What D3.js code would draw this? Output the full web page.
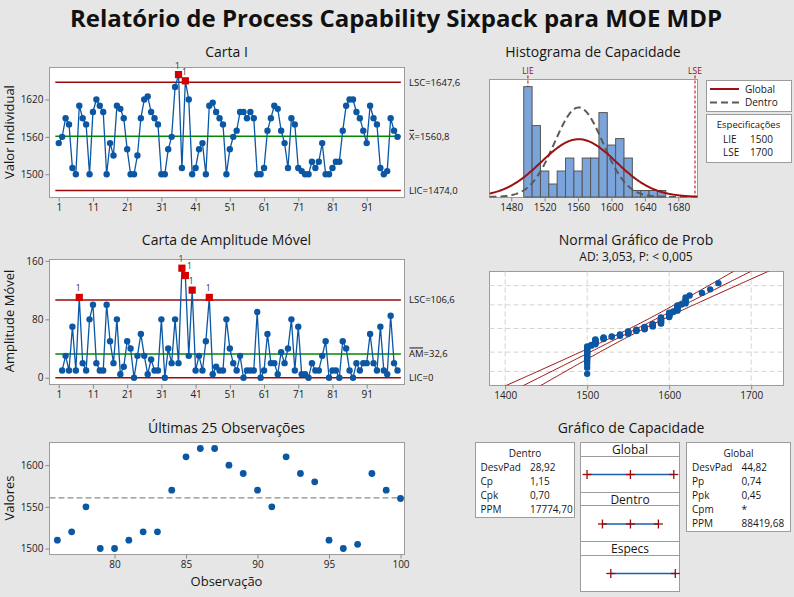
<!DOCTYPE html>
<html><head><meta charset="utf-8">
<script src="https://cdn.jsdelivr.net/npm/d3@7"></script>
<style>
body{margin:0;background:#e6e6e6;}
svg{display:block;}
text{font-family:"Open Sans","Noto Sans",sans-serif;fill:#161616;}
</style></head><body>
<svg id="c" width="794" height="597"></svg>
<script>
// ---------- data ----------
const observations = d3.range(1, 101);
const values = [1550,1560,1590,1580,1510,1500,1610,1590,1580,1500,
  1600,1620,1610,1600,1500,1550,1530,1610,1605,1590,
  1540,1500,1500,1530,1590,1620,1625,1600,1590,1580,
  1500,1500,1540,1560,1640,1660,1510,1650,1620,1500,
  1510,1540,1550,1500,1610,1615,1600,1590,1580,1500,
  1540,1560,1570,1600,1600,1590,1600,1590,1500,1500,
  1510,1570,1590,1610,1605,1570,1550,1510,1590,1580,
  1510,1505,1500,1500,1520,1510,1520,1550,1500,1500,
  1510,1520,1520,1570,1610,1620,1620,1600,1590,1570,
  1550,1610,1590,1580,1510,1500,1505,1590,1570,1560];
const mrObs = d3.range(2, 101);
const mrValues = [10,30,10,70,10,110,20,10,80,
  100,20,10,10,100,50,20,80,5,15,
  50,40,0,30,60,30,5,25,10,10,
  80,0,40,20,80,20,150,140,30,120,
  10,30,10,50,110,5,15,10,10,80,
  40,20,10,30,0,10,10,10,90,0,
  10,60,20,20,5,35,20,40,80,10,
  70,5,5,0,20,10,10,30,50,0,
  10,10,0,50,40,10,0,20,10,20,
  20,60,20,10,70,10,5,85,20,10];
const histCenters = [1500,1510,1520,1530,1540,1550,1560,1570,1580,1590,1600,1610,1620,1630,1640,1650,1660];
const histCounts  = [17,11,4,2,4,6,4,6,6,13,8,9,6,1,1,1,1];
const iLimits = {lsc:1647.6, center:1560.8, lic:1474.0};
const iLabels = ["LSC=1647,6", "=1560,8", "LIC=1474,0"];
const mrLimits = {lsc:106.6, center:32.6, lic:0};
const mrLabels = ["LSC=106,6", "=32,6", "LIC=0"];
const specs = {lie:1500, lse:1700};
const mean = 1560.8, sdWithin = 28.92, sdOverall = 44.82;
const xTicksI = [1,11,21,31,41,51,61,71,81,91];
const yTicksI = [1500,1560,1620];
const yTicksMR = [0,80,160];
const histTicks = [1480,1520,1560,1600,1640,1680];
const probTicks = [1400,1500,1600,1700];
const probGrid = [0.01,0.1,0.5,0.9,0.99];
const last25Ticks = [80,85,90,95,100];
const last25YTicks = [1500,1550,1600];
const withinTable = [["DesvPad","28,92"],["Cp","1,15"],["Cpk","0,70"],["PPM","17774,70"]];
const overallTable = [["DesvPad","44,82"],["Pp","0,74"],["Ppk","0,45"],["Cpm","*"],["PPM","88419,68"]];

// ---------- helpers ----------
const FONT = '"Open Sans","Noto Sans",sans-serif';
const BLUE = "#0b57a4", DRED = "#9a0a0a", GREEN = "#008a00", RED = "#d40000";
const svg = d3.select("#c");
svg.append("rect").attr("width",794).attr("height",597).attr("fill","#e6e6e6");

function frame(x0,y0,x1,y1,fill){
  return svg.append("rect").attr("x",x0).attr("y",y0).attr("width",x1-x0).attr("height",y1-y0)
    .attr("fill",fill||"#fff").attr("stroke","#9c9c9c").attr("stroke-width",1);
}
function txt(x,y,s,size,anchor,weight,color){
  return svg.append("text").attr("x",x).attr("y",y).attr("dy","0.35em").attr("font-size",size)
    .attr("text-anchor",anchor||"start").attr("font-weight",weight||"normal")
    .style("fill",color||"#161616").text(s);
}
function styleAxis(g){
  g.select(".domain").remove();
  g.attr("font-family",FONT).attr("font-size",10);
  g.selectAll("line").attr("stroke","#8a8a8a");
  g.selectAll("text").style("fill","#222");
}
function bottomAxis(scale,y,ticks){
  const g = svg.append("g").attr("transform",`translate(0,${y})`)
    .call(d3.axisBottom(scale).tickValues(ticks).tickSize(4).tickPadding(2).tickFormat(d3.format("d")));
  styleAxis(g); return g;
}
function leftAxis(scale,x,ticks){
  const g = svg.append("g").attr("transform",`translate(${x},0)`)
    .call(d3.axisLeft(scale).tickValues(ticks).tickSize(4).tickPadding(2).tickFormat(d3.format("d")));
  styleAxis(g); return g;
}
function vTitle(x,y,s){
  svg.append("text").attr("transform",`translate(${x},${y}) rotate(-90)`).attr("dy","0.35em")
    .attr("text-anchor","middle").attr("font-size",13).text(s);
}
function overLabel(x,y,bar,rest){
  const t = txt(x,y,bar,9.5);
  const w = t.node().getComputedTextLength();
  txt(x+w,y,rest,9.5);
  svg.append("line").attr("x1",x+0.5).attr("x2",x+w-0.5).attr("y1",y-6).attr("y2",y-6)
    .attr("stroke","#161616").attr("stroke-width",1);
}
function clip(id,x0,y0,x1,y1){
  svg.append("clipPath").attr("id",id).append("rect").attr("x",x0).attr("y",y0).attr("width",x1-x0).attr("height",y1-y0);
}
function probit(p){
  const a=[-3.969683028665376e+01,2.209460984245205e+02,-2.759285104469687e+02,1.383577518672690e+02,-3.066479806614716e+01,2.506628277459239e+00];
  const b=[-5.447609879822406e+01,1.615858368580409e+02,-1.556989798598866e+02,6.680131188771972e+01,-1.328068155288572e+01];
  const c=[-7.784894002430293e-03,-3.223964580411365e-01,-2.400758277161838e+00,-2.549732539343734e+00,4.374664141464968e+00,2.938163982698783e+00];
  const d=[7.784695709041462e-03,3.224671290700398e-01,2.445134137142996e+00,3.754408661907416e+00];
  const pl=0.02425; let q,r;
  if(p<pl){q=Math.sqrt(-2*Math.log(p));return (((((c[0]*q+c[1])*q+c[2])*q+c[3])*q+c[4])*q+c[5])/((((d[0]*q+d[1])*q+d[2])*q+d[3])*q+1);}
  if(p<=1-pl){q=p-0.5;r=q*q;return (((((a[0]*r+a[1])*r+a[2])*r+a[3])*r+a[4])*r+a[5])*q/(((((b[0]*r+b[1])*r+b[2])*r+b[3])*r+b[4])*r+1);}
  q=Math.sqrt(-2*Math.log(1-p));return -(((((c[0]*q+c[1])*q+c[2])*q+c[3])*q+c[4])*q+c[5])/((((d[0]*q+d[1])*q+d[2])*q+d[3])*q+1);
}
const npdf = (x,m,s)=>Math.exp(-0.5*((x-m)/s)**2)/(s*Math.sqrt(2*Math.PI));

// ---------- main title ----------
txt(396,19,"Relatório de Process Capability Sixpack para MOE MDP",24,"middle","bold","#111");

// ---------- Carta I ----------
const IX0=49.5, IX1=404.5;
const xI = d3.scaleLinear().domain([-1.7,102.05]).range([IX0,IX1]);
const yI = d3.scaleLinear().domain([1462.6,1671.4]).range([197.5,67.5]);
txt(226.5,52,"Carta I",14,"middle");
frame(IX0,67.5,IX1,197.5);
[[iLimits.lsc,DRED],[iLimits.center,GREEN],[iLimits.lic,DRED]].forEach(([v,c])=>{
  svg.append("line").attr("x1",xI(0)).attr("x2",xI(101)).attr("y1",yI(v)).attr("y2",yI(v)).attr("stroke",c).attr("stroke-width",1.5);
});
svg.append("path").datum(values).attr("fill","none").attr("stroke",BLUE).attr("stroke-width",1.3)
  .attr("d",d3.line().x((d,i)=>xI(observations[i])).y(d=>yI(d)));
let prevFlag = false;
values.forEach((v,i)=>{
  const flag = v>iLimits.lsc||v<iLimits.lic;
  if(flag){
    svg.append("rect").attr("x",xI(observations[i])-3.6).attr("y",yI(v)-3.6).attr("width",7.2).attr("height",7.2).attr("fill",RED);
  } else {
    svg.append("circle").attr("cx",xI(observations[i])).attr("cy",yI(v)).attr("r",3.2).attr("fill",BLUE);
  }
});
values.forEach((v,i)=>{
  if(v>iLimits.lsc||v<iLimits.lic) txt(xI(observations[i])-1,yI(v)-9,"1",8.5,"middle","normal","#333");
});
bottomAxis(xI,197.5,xTicksI);
leftAxis(yI,IX0,yTicksI);
vTitle(9,132,"Valor Individual");
txt(409,yI(iLimits.lsc),iLabels[0],9.5);
overLabel(409,yI(iLimits.center),"X",iLabels[1]);
txt(409,yI(iLimits.lic),iLabels[2],9.5);

// ---------- Carta MR ----------
const yM = d3.scaleLinear().domain([-9.2,161.9]).range([384.5,259.5]);
txt(226.5,240,"Carta de Amplitude Móvel",14,"middle");
frame(IX0,259.5,IX1,384.5);
[[mrLimits.lsc,DRED],[mrLimits.center,GREEN],[mrLimits.lic,DRED]].forEach(([v,c])=>{
  svg.append("line").attr("x1",xI(0)).attr("x2",xI(101)).attr("y1",yM(v)).attr("y2",yM(v)).attr("stroke",c).attr("stroke-width",1.5);
});
svg.append("path").datum(mrValues).attr("fill","none").attr("stroke",BLUE).attr("stroke-width",1.3)
  .attr("d",d3.line().x((d,i)=>xI(mrObs[i])).y(d=>yM(d)));
mrValues.forEach((v,i)=>{
  if(v>mrLimits.lsc){
    svg.append("rect").attr("x",xI(mrObs[i])-3.6).attr("y",yM(v)-3.6).attr("width",7.2).attr("height",7.2).attr("fill",RED);
  } else {
    svg.append("circle").attr("cx",xI(mrObs[i])).attr("cy",yM(v)).attr("r",3.2).attr("fill",BLUE);
  }
});
mrValues.forEach((v,i)=>{
  if(v>mrLimits.lsc){
    const shift = (i>0 && mrValues[i-1]>mrLimits.lsc) ? 4 : -1;
    txt(xI(mrObs[i])+shift,yM(v)-9,"1",8.5,"middle","normal","#333");
  }
});
bottomAxis(xI,384.5,xTicksI);
leftAxis(yM,IX0,yTicksMR);
vTitle(9,321,"Amplitude Móvel");
txt(409,yM(mrLimits.lsc),mrLabels[0],9.5);
overLabel(409,yM(mrLimits.center),"AM",mrLabels[1]);
txt(409,yM(mrLimits.lic),mrLabels[2],9.5);

// ---------- Últimas 25 ----------
const xL = d3.scaleLinear().domain([75.45,100.28]).range([IX0,IX1]);
const yL = d3.scaleLinear().domain([1492.8,1627.2]).range([554.5,442.5]);
txt(226.5,428,"Últimas 25 Observações",14,"middle");
frame(IX0,442.5,IX1,554.5);
svg.append("line").attr("x1",IX0).attr("x2",IX1).attr("y1",yL(mean)).attr("y2",yL(mean))
  .attr("stroke","#8c8c8c").attr("stroke-width",1.2).attr("stroke-dasharray","6,3");
const last = values.slice(-25), lastObs = observations.slice(-25);
svg.selectAll(null).data(last).enter().append("circle")
  .attr("cx",(d,i)=>xL(lastObs[i])).attr("cy",d=>yL(d)).attr("r",3.4).attr("fill",BLUE);
bottomAxis(xL,554.5,last25Ticks);
leftAxis(yL,IX0,last25YTicks);
vTitle(9,498,"Valores");
txt(226.5,581,"Observação",13,"middle");

// ---------- Histograma ----------
const HX0=489.5, HX1=697.5, HY0=79.5, HY1=197.5;
const xH = d3.scaleLinear().domain([1454,1703]).range([HX0,HX1]);
const yH = d3.scaleLinear().domain([0,18.1]).range([197,HY0]);
txt(593,52,"Histograma de Capacidade",14,"middle");
frame(HX0,HY0,HX1,HY1);
clip("hclip",HX0,HY0,HX1,HY1);
[specs.lie,specs.lse].forEach((v,i)=>{
  svg.append("line").attr("x1",xH(v)).attr("x2",xH(v)).attr("y1",HY0-4).attr("y2",HY1)
    .attr("stroke","#b00000").attr("stroke-width",1).attr("stroke-dasharray","3,2");
  txt(xH(v),71.5,i?"LSE":"LIE",8.5,"middle","normal","#9a0a0a");
});
svg.selectAll(null).data(histCounts).enter().append("rect")
  .attr("x",(d,i)=>xH(histCenters[i]-5)).attr("width",(d,i)=>xH(histCenters[i]+5)-xH(histCenters[i]-5))
  .attr("y",d=>yH(d)).attr("height",d=>yH(0)-yH(d))
  .attr("fill","#7ba5da").attr("stroke","#555").attr("stroke-width",1);
const binW = 10, N = values.length;
const xs = d3.range(1454,1704,1);
svg.append("path").attr("clip-path","url(#hclip)").datum(xs).attr("fill","none").attr("stroke","#5a5a5a")
  .attr("stroke-width",2).attr("stroke-dasharray","7,4")
  .attr("d",d3.line().x(d=>xH(d)).y(d=>yH(N*binW*npdf(d,mean,sdWithin))));
svg.append("path").attr("clip-path","url(#hclip)").datum(xs).attr("fill","none").attr("stroke","#9c1111")
  .attr("stroke-width",2)
  .attr("d",d3.line().x(d=>xH(d)).y(d=>yH(N*binW*npdf(d,mean,sdOverall))));
bottomAxis(xH,HY1,histTicks);
// legend
frame(706.5,80.5,791.5,111.5);
svg.append("line").attr("x1",710).attr("x2",739).attr("y1",89).attr("y2",89).attr("stroke","#9c1111").attr("stroke-width",2);
svg.append("line").attr("x1",710).attr("x2",739).attr("y1",102.5).attr("y2",102.5).attr("stroke","#5a5a5a").attr("stroke-width",2).attr("stroke-dasharray","7,4");
txt(745,89,"Global",10);
txt(745,102.5,"Dentro",10);
frame(706.5,114.5,791.5,162.5);
txt(748.5,124.5,"Especificações",9.5,"middle");
txt(723,139,"LIE",10); txt(750,139,String(specs.lie),10);
txt(723,152.5,"LSE",10); txt(750,152.5,String(specs.lse),10);

// ---------- Normal probability plot ----------
const PX0=489.5, PX1=783.5, PY0=271.5, PY1=385.5;
const xP = d3.scaleLinear().domain([1380.9,1739.4]).range([PX0,PX1]);
const yP = d3.scaleLinear().domain([-3.09,3.09]).range([PY1,PY0]);
txt(636,240,"Normal Gráfico de Prob",14,"middle");
txt(636,257,"AD: 3,053, P: < 0,005",12,"middle");
frame(PX0,PY0,PX1,PY1);
clip("pclip",PX0,PY0,PX1,PY1);
probTicks.forEach(v=>svg.append("line").attr("x1",xP(v)).attr("x2",xP(v)).attr("y1",PY0).attr("y2",PY1)
  .attr("stroke","#d4d4d4").attr("stroke-dasharray","5,3"));
probGrid.forEach(p=>svg.append("line").attr("x1",PX0).attr("x2",PX1).attr("y1",yP(probit(p))).attr("y2",yP(probit(p)))
  .attr("stroke","#d4d4d4").attr("stroke-dasharray","5,3"));
const zs = d3.range(-3.3,3.31,0.05);
[-1,0,1].forEach(k=>{
  svg.append("path").attr("clip-path","url(#pclip)").datum(zs).attr("fill","none").attr("stroke","#9c1111").attr("stroke-width",1)
    .attr("d",d3.line().x(z=>xP(mean+sdOverall*z+k*1.96*sdOverall*Math.sqrt((1+z*z/2)/N))).y(z=>yP(z)));
});
const sorted = values.slice().sort(d3.ascending);
svg.selectAll(null).data(sorted).enter().append("circle")
  .attr("cx",d=>xP(d)).attr("cy",(d,i)=>yP(probit((i+1-0.3)/(N+0.4)))).attr("r",3.2).attr("fill",BLUE);
bottomAxis(xP,PY1,probTicks);

// ---------- Capability plot ----------
txt(631,428,"Gráfico de Capacidade",14,"middle");
// within table
frame(475.5,442.5,574.5,517.5);
txt(525,453,"Dentro",10,"middle");
withinTable.forEach((r,i)=>{ txt(480.5,467+14*i,r[0],10); txt(530,467+14*i,r[1],10); });
// overall table
frame(686.5,442.5,790.5,531.5);
txt(738.5,453,"Global",10,"middle");
overallTable.forEach((r,i)=>{ txt(692,467+14*i,r[0],10); txt(741.5,467+14*i,r[1],10); });
// interval panels
const CX0=580.5, CX1=679.5;
const xC = d3.scaleLinear().domain([1406,1713]).range([CX0,CX1]);
const panels = [
  {name:"Global", h0:442.5,h1:456.5,p1:492.5, yc:474.5, pts:[mean-3*sdOverall,mean,mean+3*sdOverall]},
  {name:"Dentro", h0:492.5,h1:505.5,p1:541.5, yc:524, pts:[mean-3*sdWithin,mean,mean+3*sdWithin]},
  {name:"Especs", h0:541.5,h1:555.5,p1:591.5, yc:573.5, pts:[specs.lie,specs.lse]}
];
panels.forEach(p=>{
  frame(CX0,p.h0,CX1,p.h1);
  frame(CX0,p.h1,CX1,p.p1);
  txt((CX0+CX1)/2,(p.h0+p.h1)/2+0.5,p.name,12,"middle");
  svg.append("line").attr("x1",xC(d3.min(p.pts))).attr("x2",xC(d3.max(p.pts))).attr("y1",p.yc).attr("y2",p.yc)
    .attr("stroke","#1d5fae").attr("stroke-width",1.5);
  p.pts.forEach(v=>{
    svg.append("line").attr("x1",xC(v)).attr("x2",xC(v)).attr("y1",p.yc-4.5).attr("y2",p.yc+4.5).attr("stroke",DRED).attr("stroke-width",1.3);
    svg.append("line").attr("x1",xC(v)-4.5).attr("x2",xC(v)+4.5).attr("y1",p.yc).attr("y2",p.yc).attr("stroke",DRED).attr("stroke-width",1.3);
  });
});
</script>
</body></html>
